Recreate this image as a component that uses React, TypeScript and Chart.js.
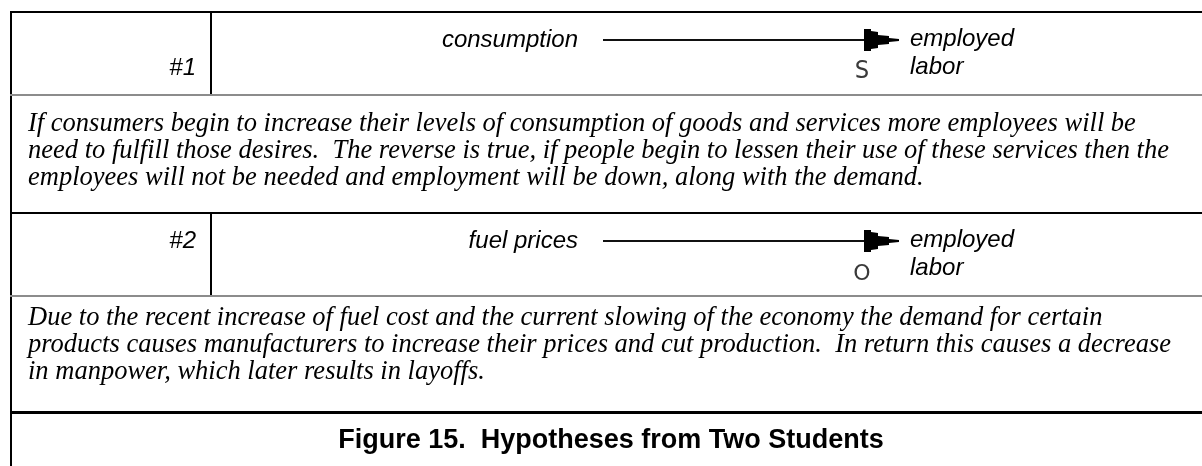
import React, { useEffect, useRef } from "react";
import { Chart, registerables } from "chart.js";

Chart.register(...registerables);

// ---- content ----
const hypothesisLabels = ["#1", "#2"];
const causes = ["consumption", "fuel prices"];
const effectLine1 = ["employed", "employed"];
const effectLine2 = ["labor", "labor"];
const signs = ["S", "O"];
const explanation1 = [
  "If consumers begin to increase their levels of consumption of goods and services more employees will be",
  "need to fulfill those desires.  The reverse is true, if people begin to lessen their use of these services then the",
  "employees will not be needed and employment will be down, along with the demand.",
];
const explanation2 = [
  "Due to the recent increase of fuel cost and the current slowing of the economy the demand for certain",
  "products causes manufacturers to increase their prices and cut production.  In return this causes a decrease",
  "in manpower, which later results in layoffs.",
];
const explanations = [explanation1, explanation2];
const figureTitle = "Figure 15.  Hypotheses from Two Students";

const W = 1202;
const H = 466;

const tablePlugin = {
  id: "hypothesisTable",
  afterDraw(chart: any) {
    const ctx: CanvasRenderingContext2D = chart.ctx;
    const xs = chart.scales.x;
    const ys = chart.scales.y;
    const X = (v: number) => xs.getPixelForValue(v);
    const Y = (v: number) => ys.getPixelForValue(v);
    ctx.save();

    const hline = (y: number, w: number, color: string) => {
      ctx.fillStyle = color;
      ctx.fillRect(X(10), Y(y), X(W) - X(10), w);
    };
    const vline = (x: number, y0: number, y1: number, w: number) => {
      ctx.fillStyle = "#000";
      ctx.fillRect(X(x), Y(y0), w, Y(y1) - Y(y0));
    };

    // outer left border
    vline(10, 11, H, 2);

    const rowOffset = 201;
    const paraBase = [131, 325];
    const signCenter = [71, 73];
    hypothesisLabels.forEach((lab, i) => {
      const o = i * rowOffset;
      // top black line of row
      hline(11 + o, 2, "#000");
      // divider
      vline(210, 11 + o, 94 + o, 2);
      // gray separator
      hline(94 + o, 2, "#8c8c8c");

      // label
      ctx.fillStyle = "#000";
      ctx.font = "italic 24px 'Liberation Sans', Arial, sans-serif";
      ctx.textAlign = "right";
      ctx.textBaseline = "alphabetic";
      ctx.fillText(lab, X(196), Y(i === 0 ? 75 : 47 + o));

      // cause
      ctx.fillText(causes[i], X(578), Y(47 + o));

      // effect
      ctx.textAlign = "left";
      ctx.fillText(effectLine1[i], X(910), Y(46 + o));
      ctx.fillText(effectLine2[i], X(910), Y(74 + o));

      // arrow shaft
      const ay = 40 + o;
      ctx.fillStyle = "#111";
      ctx.fillRect(X(603), Y(ay) - 1, X(866) - X(603), 2);
      // arrow head
      const pts: [number, number][] = [
        [864, -11], [871, -11], [871, -9], [878, -8], [878, -5], [889, -4], [889, -2], [899, -1],
        [899, 1], [889, 2], [889, 4], [878, 5], [878, 8], [871, 9], [871, 11], [864, 11],
      ];
      ctx.beginPath();
      pts.forEach(([px, py], k) => {
        const xx = X(px);
        const yy = Y(ay) + py;
        if (k === 0) ctx.moveTo(xx, yy);
        else ctx.lineTo(xx, yy);
      });
      ctx.closePath();
      ctx.fillStyle = "#000";
      ctx.fill();

      // sign
      ctx.fillStyle = "#3a3a3a";
      ctx.font = i === 0 ? "25px 'DejaVu Sans Mono', monospace" : "22px 'DejaVu Sans', sans-serif";
      ctx.textAlign = "center";
      ctx.textBaseline = "middle";
      ctx.fillText(signs[i], X(862), Y(signCenter[i] + o));

      // explanation paragraph
      ctx.fillStyle = "#000";
      ctx.font = "italic 26.5px 'Liberation Serif', 'Times New Roman', serif";
      ctx.textAlign = "left";
      ctx.textBaseline = "alphabetic";
      explanations[i].forEach((line, k) => {
        ctx.fillText(line, X(28), Y(paraBase[i] + k * 27));
      });
    });

    // line above title
    hline(411, 3, "#000");
    ctx.fillStyle = "#000";
    ctx.font = "bold 27px 'Liberation Sans', Arial, sans-serif";
    ctx.textAlign = "center";
    ctx.textBaseline = "alphabetic";
    ctx.fillText(figureTitle, X(611), Y(448));

    ctx.restore();
  },
};

export default function App() {
  const ref = useRef<HTMLCanvasElement | null>(null);
  useEffect(() => {
    if (!ref.current) return;
    const chart = new Chart(ref.current, {
      type: "scatter",
      data: { datasets: [{ data: [], pointRadius: 0 }] },
      options: {
        animation: false,
        responsive: false,
        devicePixelRatio: 1,
        layout: { padding: 0 },
        plugins: { legend: { display: false }, tooltip: { enabled: false } },
        scales: {
          x: { type: "linear", min: 0, max: W, display: false },
          y: { type: "linear", min: 0, max: H, reverse: true, display: false },
        },
      },
      plugins: [tablePlugin],
    });
    return () => chart.destroy();
  }, []);
  return (
    <div style={{ position: "fixed", left: 0, top: 0, width: W, height: H, background: "#fff" }}>
      <canvas ref={ref} width={W} height={H} style={{ width: W, height: H, display: "block" }} />
    </div>
  );
}
